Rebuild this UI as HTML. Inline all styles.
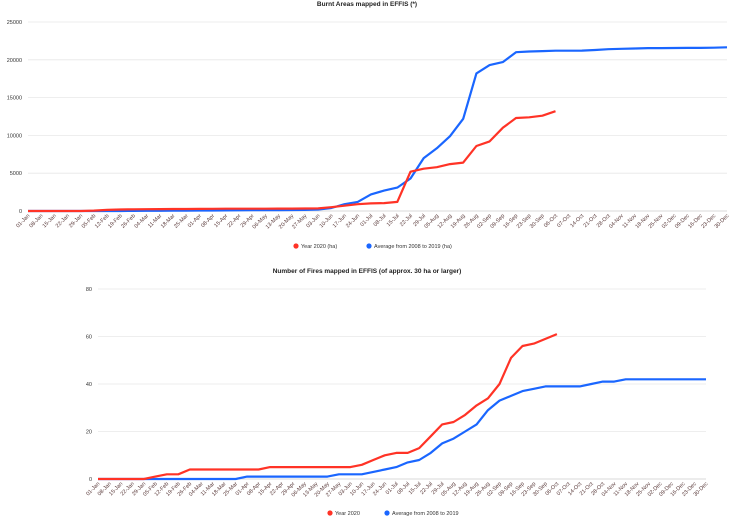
<!DOCTYPE html><html><head><style>body{margin:0;background:#fff}svg{display:block;font-family:"Liberation Sans",Arial,sans-serif}</style></head><body>
<svg id="s" width="735" height="521" xmlns="http://www.w3.org/2000/svg"></svg>
<script>
const L="01-Jan 08-Jan 15-Jan 22-Jan 29-Jan 05-Feb 12-Feb 19-Feb 26-Feb 04-Mar 11-Mar 18-Mar 25-Mar 01-Apr 08-Apr 15-Apr 22-Apr 29-Apr 06-May 13-May 20-May 27-May 03-Jun 10-Jun 17-Jun 24-Jun 01-Jul 08-Jul 15-Jul 22-Jul 29-Jul 05-Aug 12-Aug 19-Aug 26-Aug 02-Sep 09-Sep 16-Sep 23-Sep 30-Sep 06-Oct 07-Oct 14-Oct 21-Oct 28-Oct 04-Nov 11-Nov 18-Nov 25-Nov 02-Dec 09-Dec 16-Dec 23-Dec 30-Dec".split(" ");
let h="";
function chart(o){
 const {x0,x1,y0,y1,max,step,title,ty,red,blue,leg}=o;
 const dx=(x1-x0)/53, Y=v=>y0-(v/max)*(y0-y1);
 h+=`<text x="367" y="${ty}" font-size="6.5" font-weight="bold" text-anchor="middle" fill="#222">${title}</text>`;
 for(let v=0;v<=max;v+=step){const y=Y(v);
  h+=`<line x1="${x0}" x2="${x1}" y1="${y}" y2="${y}" stroke="${v?'#e8e8e8':'#ccc'}" stroke-width="0.8"/>`;
  h+=`<text x="${x0-6}" y="${y+2}" font-size="5.5" text-anchor="end" fill="#333">${v}</text>`;}
 L.forEach((l,i)=>{const x=x0+i*dx;h+=`<text transform="translate(${x+2},${y0+5}) rotate(-45)" font-size="5.5" text-anchor="end" fill="#5a3a3a">${l}</text>`;});
 const p=(d,c)=>h+=`<polyline fill="none" stroke="${c}" stroke-width="2.2" stroke-linejoin="round" points="${d.map((v,i)=>(x0+i*dx).toFixed(1)+','+Y(v).toFixed(1)).join(' ')}"/>`;
 p(blue,"#1a66ff");p(red,"#ff3326");
 h+=`<circle cx="${leg[0]}" cy="${leg[2]}" r="2.6" fill="#ff3326"/><text x="${leg[0]+5}" y="${leg[2]+2}" font-size="5.5" fill="#333">${leg[3]}</text>`;
 h+=`<circle cx="${leg[1]}" cy="${leg[2]}" r="2.6" fill="#1a66ff"/><text x="${leg[1]+5}" y="${leg[2]+2}" font-size="5.5" fill="#333">${leg[4]}</text>`;
}
const r1=[0,0,0,0,0,50,150,200,220,240,250,260,270,280,290,300,300,310,310,320,320,330,350,500,700,900,1000,1050,1200,5200,5600,5800,6200,6400,8600,9200,11000,12300,12400,12600,13200];
const b1=[0,0,0,0,0,0,0,0,10,20,30,40,50,60,70,80,90,100,110,120,130,150,200,400,900,1200,2200,2700,3100,4300,7000,8300,9900,12200,18200,19300,19700,21000,21100,21150,21200,21200,21220,21300,21400,21450,21500,21550,21550,21560,21570,21580,21600,21650];
chart({x0:28,x1:727,y0:211,y1:22,max:25000,step:5000,title:"Burnt Areas mapped in EFFIS (*)",ty:6,red:r1,blue:b1,leg:[296,369,246,"Year 2020 (ha)","Average from 2008 to 2019 (ha)"]});
const r2=[0,0,0,0,0,1,2,2,4,4,4,4,4,4,4,5,5,5,5,5,5,5,5,6,8,10,11,11,13,18,23,24,27,31,34,40,51,56,57,59,61];
const b2=[0,0,0,0,0,0,0,0,0,0,0,0,0,1,1,1,1,1,1,1,1,2,2,2,3,4,5,7,8,11,15,17,20,23,29,33,35,37,38,39,39,39,39,40,41,41,42,42,42,42,42,42,42,42];
chart({x0:98,x1:706,y0:479,y1:289,max:80,step:20,title:"Number of Fires mapped in EFFIS (of approx. 30 ha or larger)",ty:273,red:r2,blue:b2,leg:[330,387,513,"Year 2020","Average from 2008 to 2019"]});
document.getElementById("s").innerHTML=h;
</script></body></html>
